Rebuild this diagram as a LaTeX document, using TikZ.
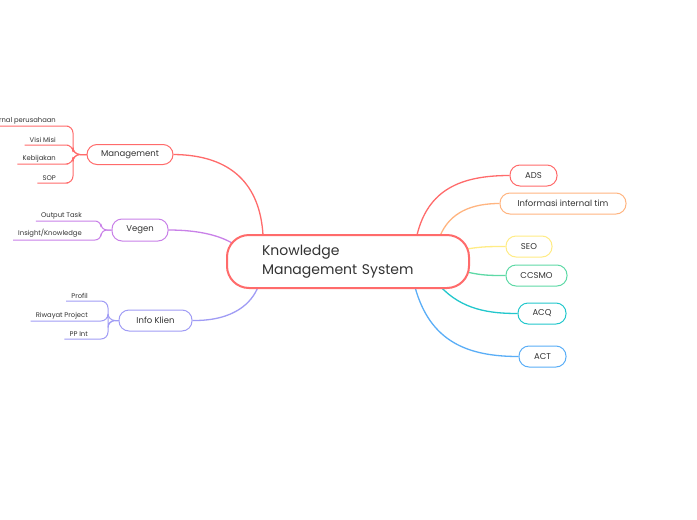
\documentclass[tikz,border=0pt]{standalone}
\usepackage{fontspec}
\setmainfont{Poppins}
\usetikzlibrary{calc}
\definecolor{cred}{HTML}{FF6B6B}
\definecolor{cpur}{HTML}{C981E8}
\definecolor{clav}{HTML}{A09CF5}
\definecolor{cora}{HTML}{FFB580}
\definecolor{cyel}{HTML}{FFEC85}
\definecolor{cgre}{HTML}{5ED9A6}
\definecolor{ctea}{HTML}{22C7CC}
\definecolor{cblu}{HTML}{5AAEF7}
\definecolor{ctxt}{HTML}{333333}
\tikzset{
  x=1pt,y=-1pt,
  topic/.style={draw,fill=white,line width=1pt,rounded corners=10pt,minimum height=21pt,inner sep=0pt,text=ctxt,font=\fontsize{8.5}{10}\selectfont},
  leaf/.style={inner xsep=5pt,inner ysep=2pt,text=ctxt,font=\fontsize{6.8}{8}\selectfont},
  conn/.style={line width=1.3pt},
  sub/.style={line width=1pt,rounded corners=7pt},
  central/.style={draw=cred,fill=white,line width=2pt,rounded corners=22pt,minimum width=242pt,minimum height=53pt,
    text width=172pt,inner xsep=35pt,align=left,text=ctxt,font=\fontsize{14}{19}\selectfont},
}
\begin{document}
\begin{tikzpicture}
\fill[white] (0,0) rectangle (697,520);
\useasboundingbox (0,0) rectangle (697,520);

\coordinate (kmg) at (263,235);
\coordinate (kvg) at (232,243);
\coordinate (kik) at (258,287);
\coordinate (kads) at (417,235);
\coordinate (kinf) at (440,236);
\coordinate (kseo) at (467,249);
\coordinate (kcc) at (467,272);
\coordinate (kacq) at (440,286);
\coordinate (kact) at (415,287);

% main topics
\node[topic,draw=cred,minimum width=86pt,minimum height=20pt] (mg) at (130,154.5) {Management};
\node[topic,draw=cpur,minimum width=56pt,minimum height=22pt] (vg) at (140,230) {Vegen};
\node[topic,draw=clav,minimum width=73pt] (ik) at (155.5,320.5) {Info Klien};
\node[topic,draw=cred,minimum width=47pt] (ads) at (533.5,175.5) {ADS};
\node[topic,draw=cora,minimum width=126pt] (inf) at (563,203.5) {Informasi internal tim};
\node[topic,draw=cyel,minimum width=46pt] (seo) at (529,246.5) {SEO};
\node[topic,draw=cgre,minimum width=61pt] (cc) at (536.5,275.5) {CCSMO};
\node[topic,draw=ctea,minimum width=48pt] (acq) at (542,313.5) {ACQ};
\node[topic,draw=cblu,minimum width=47pt] (act) at (542.5,356.5) {ACT};

% connectors from central
\draw[conn,cred] (mg.east) .. controls (232,155) and (260,185) .. (kmg);
\draw[conn,cpur] (vg.east) .. controls (200,230) and (220,236) .. (kvg);
\draw[conn,clav] (ik.east) .. controls (235,321) and (252,302) .. (kik);
\draw[conn,cred] (kads) .. controls (428,190) and (460,175.5) .. (ads.west);
\draw[conn,cora] (kinf) .. controls (450,212) and (472,203.5) .. (inf.west);
\draw[conn,cyel] (kseo) .. controls (482,246.5) and (490,246.5) .. (seo.west);
\draw[conn,cgre] (kcc) .. controls (482,275.5) and (490,275.5) .. (cc.west);
\draw[conn,ctea] (kacq) .. controls (462,310) and (490,313.5) .. (acq.west);
\draw[conn,cblu] (kact) .. controls (430,342) and (468,356.5) .. (act.west);

% central node on top of connector ends
\node[central] (kms) at (348,261.5) {Knowledge\\Management System};

% Management leaves
\node[leaf,anchor=south east] (m1) at (61,126) {Internal perusahaan};
\node[leaf,anchor=south east] (m2) at (61,145) {Visi Misi};
\node[leaf,anchor=south east] (m3) at (61,164) {Kebijakan};
\node[leaf,anchor=south east] (m4) at (61,183) {SOP};
\foreach \c in {m1,m2,m3,m4}
  \draw[sub,cred] (mg.west) -- (73,154.5) |- (\c.south east) -- (\c.south west);

% Vegen leaves
\node[leaf,anchor=south east] (v1) at (87,221) {Output Task};
\node[leaf,anchor=south east] (v2) at (87,240) {Insight/Knowledge};
\foreach \c in {v1,v2}
  \draw[sub,cpur,rounded corners=6pt] (vg.west) -- (101,230) |- (\c.south east) -- (\c.south west);

% Info Klien leaves
\node[leaf,anchor=south east] (i1) at (93,301) {Profil};
\node[leaf,anchor=south east] (i2) at (93,321) {Riwayat Project};
\node[leaf,anchor=south east] (i3) at (93,339) {PP Int};
\foreach \c in {i1,i2,i3}
  \draw[sub,clav] (ik.west) -- (108,320.5) |- (\c.south east) -- (\c.south west);
\end{tikzpicture}
\end{document}
